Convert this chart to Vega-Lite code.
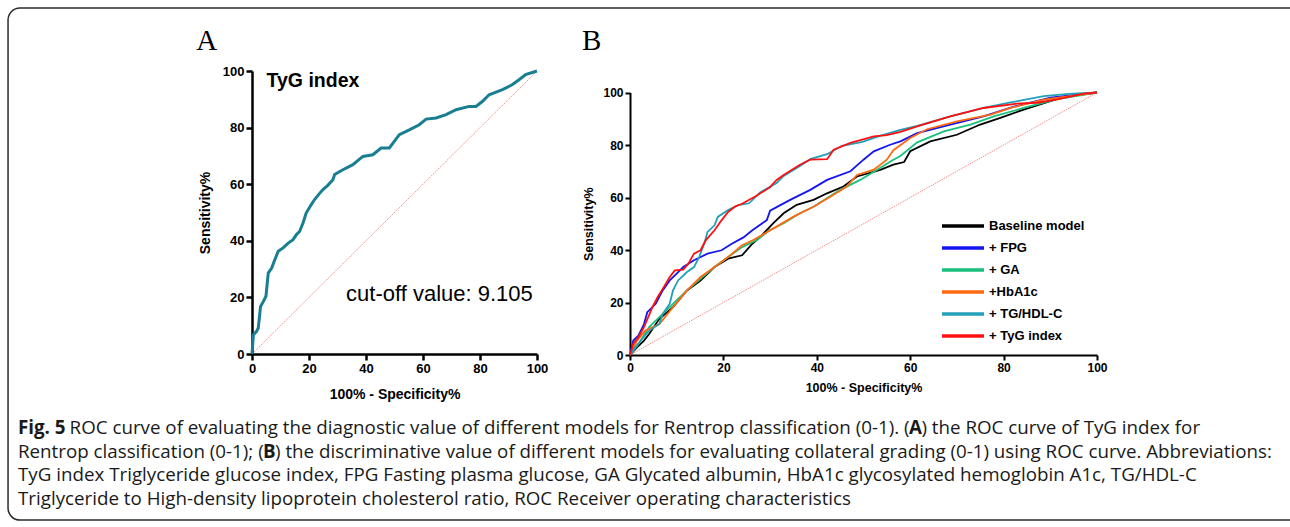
{
  "$schema": "https://vega.github.io/schema/vega-lite/v6.json",
  "padding": {"left": 7, "top": 7, "right": 0, "bottom": 0},
  "background": "white",
  "config": {"view": {"stroke": null}, "font": "Liberation Sans"},
  "datasets": {
    "caption": [
      {"seg": "L1a", "text": "Fig. 5"},
      {"seg": "L1b", "text": "ROC curve of evaluating the diagnostic value of different models for Rentrop classification (0-1). ("},
      {"seg": "L1c", "text": "A"},
      {"seg": "L1d", "text": ") the ROC curve of TyG index for"},
      {"seg": "L2a", "text": "Rentrop classification (0-1); ("},
      {"seg": "L2b", "text": "B"},
      {"seg": "L2c", "text": ") the discriminative value of different models for evaluating collateral grading (0-1) using ROC curve. Abbreviations:"},
      {"seg": "L3", "text": "TyG index Triglyceride glucose index, FPG Fasting plasma glucose, GA Glycated albumin, HbA1c glycosylated hemoglobin A1c, TG/HDL-C"},
      {"seg": "L4", "text": "Triglyceride to High-density lipoprotein cholesterol ratio, ROC Receiver operating characteristics"}
    ],
    "diag": [{"fpr": 0, "tpr": 0}, {"fpr": 100, "tpr": 100}],
    "rocA": [
      {"fpr": 0, "tpr": 0}, {"fpr": 0.5, "tpr": 6.8}, {"fpr": 1.6, "tpr": 8.0}, {"fpr": 2.2, "tpr": 9.2}, {"fpr": 3.0, "tpr": 16.8},
      {"fpr": 4.0, "tpr": 18.6}, {"fpr": 4.9, "tpr": 20.4}, {"fpr": 5.7, "tpr": 28.6}, {"fpr": 6.9, "tpr": 30.4}, {"fpr": 8.0, "tpr": 33.3},
      {"fpr": 9.2, "tpr": 36.3}, {"fpr": 10.9, "tpr": 37.5}, {"fpr": 12.7, "tpr": 39.2}, {"fpr": 14.4, "tpr": 40.4}, {"fpr": 15.6, "tpr": 42.2},
      {"fpr": 16.7, "tpr": 43.3}, {"fpr": 17.9, "tpr": 46.3}, {"fpr": 19.0, "tpr": 49.8}, {"fpr": 20.8, "tpr": 52.8}, {"fpr": 21.9, "tpr": 54.5},
      {"fpr": 23.5, "tpr": 56.5}, {"fpr": 24.9, "tpr": 58.1}, {"fpr": 26.5, "tpr": 59.5}, {"fpr": 28.4, "tpr": 61.6}, {"fpr": 29.0, "tpr": 63.4},
      {"fpr": 31.9, "tpr": 65.1}, {"fpr": 35.4, "tpr": 66.9}, {"fpr": 38.9, "tpr": 69.8}, {"fpr": 42.4, "tpr": 70.4}, {"fpr": 45.3, "tpr": 72.8},
      {"fpr": 48.2, "tpr": 72.8}, {"fpr": 51.7, "tpr": 77.5}, {"fpr": 55.2, "tpr": 79.2}, {"fpr": 58.7, "tpr": 81.0}, {"fpr": 61.1, "tpr": 83.0},
      {"fpr": 64.6, "tpr": 83.4}, {"fpr": 68.1, "tpr": 84.6}, {"fpr": 71.6, "tpr": 86.3}, {"fpr": 76.2, "tpr": 87.5}, {"fpr": 78.6, "tpr": 87.5},
      {"fpr": 80.9, "tpr": 89.3}, {"fpr": 83.2, "tpr": 91.6}, {"fpr": 87.9, "tpr": 93.4}, {"fpr": 91.4, "tpr": 95.2}, {"fpr": 93.7, "tpr": 96.9},
      {"fpr": 96.0, "tpr": 98.7}, {"fpr": 100, "tpr": 100}
    ],
    "rocB": [
      {"model": "Baseline model", "fpr": 0, "tpr": 0}, {"model": "Baseline model", "fpr": 1.5, "tpr": 2.9}, {"model": "Baseline model", "fpr": 3.0, "tpr": 5.5},
      {"model": "Baseline model", "fpr": 4.1, "tpr": 8.0}, {"model": "Baseline model", "fpr": 6.3, "tpr": 13.8}, {"model": "Baseline model", "fpr": 9.2, "tpr": 18.2},
      {"model": "Baseline model", "fpr": 12.2, "tpr": 24.6}, {"model": "Baseline model", "fpr": 15.1, "tpr": 28.4}, {"model": "Baseline model", "fpr": 18.1, "tpr": 33.5},
      {"model": "Baseline model", "fpr": 21.0, "tpr": 36.7}, {"model": "Baseline model", "fpr": 24.0, "tpr": 38.0}, {"model": "Baseline model", "fpr": 26.2, "tpr": 42.4},
      {"model": "Baseline model", "fpr": 27.9, "tpr": 45.0}, {"model": "Baseline model", "fpr": 30.7, "tpr": 50.2}, {"model": "Baseline model", "fpr": 32.9, "tpr": 54.0},
      {"model": "Baseline model", "fpr": 35.7, "tpr": 57.2}, {"model": "Baseline model", "fpr": 39.3, "tpr": 59.1}, {"model": "Baseline model", "fpr": 42.2, "tpr": 61.6},
      {"model": "Baseline model", "fpr": 45.7, "tpr": 64.2}, {"model": "Baseline model", "fpr": 48.6, "tpr": 68.0}, {"model": "Baseline model", "fpr": 53.6, "tpr": 70.5},
      {"model": "Baseline model", "fpr": 56.4, "tpr": 72.5}, {"model": "Baseline model", "fpr": 58.7, "tpr": 73.5}, {"model": "Baseline model", "fpr": 60.0, "tpr": 77.6},
      {"model": "Baseline model", "fpr": 64.3, "tpr": 81.4}, {"model": "Baseline model", "fpr": 70.0, "tpr": 83.9}, {"model": "Baseline model", "fpr": 75.0, "tpr": 87.8},
      {"model": "Baseline model", "fpr": 79.3, "tpr": 90.3}, {"model": "Baseline model", "fpr": 84.3, "tpr": 93.5}, {"model": "Baseline model", "fpr": 90.0, "tpr": 96.7},
      {"model": "Baseline model", "fpr": 92.9, "tpr": 98.3}, {"model": "Baseline model", "fpr": 100, "tpr": 100},

      {"model": "+ FPG", "fpr": 0, "tpr": 0}, {"model": "+ FPG", "fpr": 0.7, "tpr": 5.5}, {"model": "+ FPG", "fpr": 1.8, "tpr": 7.4},
      {"model": "+ FPG", "fpr": 3.0, "tpr": 11.8}, {"model": "+ FPG", "fpr": 3.7, "tpr": 16.3}, {"model": "+ FPG", "fpr": 5.5, "tpr": 19.5},
      {"model": "+ FPG", "fpr": 7.0, "tpr": 24.6}, {"model": "+ FPG", "fpr": 8.5, "tpr": 28.4}, {"model": "+ FPG", "fpr": 10.0, "tpr": 31.0},
      {"model": "+ FPG", "fpr": 11.4, "tpr": 33.5}, {"model": "+ FPG", "fpr": 13.7, "tpr": 36.1}, {"model": "+ FPG", "fpr": 16.6, "tpr": 38.6},
      {"model": "+ FPG", "fpr": 19.6, "tpr": 39.9}, {"model": "+ FPG", "fpr": 21.8, "tpr": 42.4}, {"model": "+ FPG", "fpr": 24.3, "tpr": 44.8},
      {"model": "+ FPG", "fpr": 26.2, "tpr": 47.5}, {"model": "+ FPG", "fpr": 29.3, "tpr": 51.4}, {"model": "+ FPG", "fpr": 30.0, "tpr": 55.0},
      {"model": "+ FPG", "fpr": 32.1, "tpr": 57.0}, {"model": "+ FPG", "fpr": 34.3, "tpr": 59.1}, {"model": "+ FPG", "fpr": 38.6, "tpr": 62.9},
      {"model": "+ FPG", "fpr": 42.2, "tpr": 66.7}, {"model": "+ FPG", "fpr": 47.2, "tpr": 70.0}, {"model": "+ FPG", "fpr": 50.0, "tpr": 74.4},
      {"model": "+ FPG", "fpr": 52.2, "tpr": 77.6}, {"model": "+ FPG", "fpr": 55.7, "tpr": 80.1}, {"model": "+ FPG", "fpr": 57.9, "tpr": 81.4},
      {"model": "+ FPG", "fpr": 61.5, "tpr": 84.5}, {"model": "+ FPG", "fpr": 68.6, "tpr": 87.8}, {"model": "+ FPG", "fpr": 75.7, "tpr": 90.9},
      {"model": "+ FPG", "fpr": 82.2, "tpr": 94.6}, {"model": "+ FPG", "fpr": 90.0, "tpr": 98.0}, {"model": "+ FPG", "fpr": 100, "tpr": 100},

      {"model": "+ GA", "fpr": 0, "tpr": 0}, {"model": "+ GA", "fpr": 1.8, "tpr": 4.2}, {"model": "+ GA", "fpr": 4.1, "tpr": 10.6},
      {"model": "+ GA", "fpr": 7.0, "tpr": 15.7}, {"model": "+ GA", "fpr": 9.2, "tpr": 19.5}, {"model": "+ GA", "fpr": 12.2, "tpr": 24.6},
      {"model": "+ GA", "fpr": 15.1, "tpr": 29.0}, {"model": "+ GA", "fpr": 18.1, "tpr": 33.5}, {"model": "+ GA", "fpr": 21.0, "tpr": 37.3},
      {"model": "+ GA", "fpr": 24.0, "tpr": 41.1}, {"model": "+ GA", "fpr": 27.2, "tpr": 43.8}, {"model": "+ GA", "fpr": 29.9, "tpr": 47.5},
      {"model": "+ GA", "fpr": 32.9, "tpr": 50.2}, {"model": "+ GA", "fpr": 36.4, "tpr": 54.0}, {"model": "+ GA", "fpr": 39.3, "tpr": 56.5},
      {"model": "+ GA", "fpr": 45.0, "tpr": 62.9}, {"model": "+ GA", "fpr": 49.3, "tpr": 66.7}, {"model": "+ GA", "fpr": 52.9, "tpr": 70.6},
      {"model": "+ GA", "fpr": 56.4, "tpr": 74.4}, {"model": "+ GA", "fpr": 57.9, "tpr": 75.8}, {"model": "+ GA", "fpr": 61.5, "tpr": 81.0},
      {"model": "+ GA", "fpr": 67.2, "tpr": 85.2}, {"model": "+ GA", "fpr": 72.9, "tpr": 87.8}, {"model": "+ GA", "fpr": 77.9, "tpr": 90.9},
      {"model": "+ GA", "fpr": 84.3, "tpr": 94.1}, {"model": "+ GA", "fpr": 91.5, "tpr": 97.5}, {"model": "+ GA", "fpr": 100, "tpr": 100},

      {"model": "+HbA1c", "fpr": 0, "tpr": 0}, {"model": "+HbA1c", "fpr": 1.5, "tpr": 5.5}, {"model": "+HbA1c", "fpr": 3.3, "tpr": 9.3},
      {"model": "+HbA1c", "fpr": 6.3, "tpr": 11.8}, {"model": "+HbA1c", "fpr": 9.2, "tpr": 18.2}, {"model": "+HbA1c", "fpr": 12.2, "tpr": 24.6},
      {"model": "+HbA1c", "fpr": 15.1, "tpr": 29.7}, {"model": "+HbA1c", "fpr": 18.1, "tpr": 33.5}, {"model": "+HbA1c", "fpr": 21.0, "tpr": 37.3},
      {"model": "+HbA1c", "fpr": 24.0, "tpr": 41.8}, {"model": "+HbA1c", "fpr": 26.4, "tpr": 43.8}, {"model": "+HbA1c", "fpr": 31.4, "tpr": 48.9},
      {"model": "+HbA1c", "fpr": 35.0, "tpr": 52.7}, {"model": "+HbA1c", "fpr": 39.3, "tpr": 56.5}, {"model": "+HbA1c", "fpr": 42.9, "tpr": 60.3},
      {"model": "+HbA1c", "fpr": 46.4, "tpr": 64.2}, {"model": "+HbA1c", "fpr": 48.6, "tpr": 68.6}, {"model": "+HbA1c", "fpr": 52.2, "tpr": 70.6},
      {"model": "+HbA1c", "fpr": 55.0, "tpr": 74.4}, {"model": "+HbA1c", "fpr": 56.4, "tpr": 78.0}, {"model": "+HbA1c", "fpr": 60.0, "tpr": 82.7},
      {"model": "+HbA1c", "fpr": 63.6, "tpr": 86.0}, {"model": "+HbA1c", "fpr": 70.0, "tpr": 89.0}, {"model": "+HbA1c", "fpr": 77.2, "tpr": 91.6},
      {"model": "+HbA1c", "fpr": 81.5, "tpr": 94.1}, {"model": "+HbA1c", "fpr": 88.6, "tpr": 97.3}, {"model": "+HbA1c", "fpr": 100, "tpr": 100},

      {"model": "+ TG/HDL-C", "fpr": 0, "tpr": 0}, {"model": "+ TG/HDL-C", "fpr": 1.1, "tpr": 2.9}, {"model": "+ TG/HDL-C", "fpr": 2.6, "tpr": 6.1},
      {"model": "+ TG/HDL-C", "fpr": 4.1, "tpr": 9.3}, {"model": "+ TG/HDL-C", "fpr": 6.3, "tpr": 11.8}, {"model": "+ TG/HDL-C", "fpr": 7.0, "tpr": 15.7},
      {"model": "+ TG/HDL-C", "fpr": 8.5, "tpr": 19.5}, {"model": "+ TG/HDL-C", "fpr": 9.2, "tpr": 24.6}, {"model": "+ TG/HDL-C", "fpr": 10.3, "tpr": 28.4},
      {"model": "+ TG/HDL-C", "fpr": 12.2, "tpr": 31.6}, {"model": "+ TG/HDL-C", "fpr": 13.7, "tpr": 33.5}, {"model": "+ TG/HDL-C", "fpr": 14.8, "tpr": 37.3},
      {"model": "+ TG/HDL-C", "fpr": 15.9, "tpr": 42.4}, {"model": "+ TG/HDL-C", "fpr": 16.6, "tpr": 46.9}, {"model": "+ TG/HDL-C", "fpr": 18.1, "tpr": 49.4},
      {"model": "+ TG/HDL-C", "fpr": 18.8, "tpr": 52.6}, {"model": "+ TG/HDL-C", "fpr": 21.0, "tpr": 55.2}, {"model": "+ TG/HDL-C", "fpr": 23.2, "tpr": 57.1},
      {"model": "+ TG/HDL-C", "fpr": 25.5, "tpr": 57.8}, {"model": "+ TG/HDL-C", "fpr": 27.9, "tpr": 62.0}, {"model": "+ TG/HDL-C", "fpr": 31.4, "tpr": 65.5},
      {"model": "+ TG/HDL-C", "fpr": 32.9, "tpr": 68.2}, {"model": "+ TG/HDL-C", "fpr": 36.4, "tpr": 72.0}, {"model": "+ TG/HDL-C", "fpr": 38.6, "tpr": 74.6},
      {"model": "+ TG/HDL-C", "fpr": 42.2, "tpr": 76.5}, {"model": "+ TG/HDL-C", "fpr": 45.4, "tpr": 79.7}, {"model": "+ TG/HDL-C", "fpr": 49.8, "tpr": 81.2},
      {"model": "+ TG/HDL-C", "fpr": 53.5, "tpr": 83.5}, {"model": "+ TG/HDL-C", "fpr": 57.9, "tpr": 85.8}, {"model": "+ TG/HDL-C", "fpr": 61.5, "tpr": 87.3},
      {"model": "+ TG/HDL-C", "fpr": 68.6, "tpr": 90.9}, {"model": "+ TG/HDL-C", "fpr": 75.7, "tpr": 94.1}, {"model": "+ TG/HDL-C", "fpr": 81.5, "tpr": 96.2},
      {"model": "+ TG/HDL-C", "fpr": 88.6, "tpr": 98.6}, {"model": "+ TG/HDL-C", "fpr": 94.0, "tpr": 99.5}, {"model": "+ TG/HDL-C", "fpr": 100, "tpr": 100},

      {"model": "+ TyG index", "fpr": 0, "tpr": 0}, {"model": "+ TyG index", "fpr": 0.7, "tpr": 4.2}, {"model": "+ TyG index", "fpr": 1.8, "tpr": 6.8},
      {"model": "+ TyG index", "fpr": 3.0, "tpr": 10.6}, {"model": "+ TyG index", "fpr": 4.8, "tpr": 18.2}, {"model": "+ TyG index", "fpr": 5.9, "tpr": 22.0},
      {"model": "+ TyG index", "fpr": 7.0, "tpr": 25.2}, {"model": "+ TyG index", "fpr": 8.5, "tpr": 29.7}, {"model": "+ TyG index", "fpr": 9.6, "tpr": 32.2},
      {"model": "+ TyG index", "fpr": 11.4, "tpr": 32.5}, {"model": "+ TyG index", "fpr": 12.5, "tpr": 34.8}, {"model": "+ TyG index", "fpr": 13.7, "tpr": 38.6},
      {"model": "+ TyG index", "fpr": 15.1, "tpr": 39.9}, {"model": "+ TyG index", "fpr": 16.2, "tpr": 43.7}, {"model": "+ TyG index", "fpr": 18.1, "tpr": 47.5},
      {"model": "+ TyG index", "fpr": 19.6, "tpr": 51.3}, {"model": "+ TyG index", "fpr": 21.0, "tpr": 54.5}, {"model": "+ TyG index", "fpr": 22.5, "tpr": 56.6},
      {"model": "+ TyG index", "fpr": 24.0, "tpr": 57.6}, {"model": "+ TyG index", "fpr": 26.9, "tpr": 60.5}, {"model": "+ TyG index", "fpr": 29.9, "tpr": 63.8},
      {"model": "+ TyG index", "fpr": 31.4, "tpr": 66.7}, {"model": "+ TyG index", "fpr": 32.9, "tpr": 68.6}, {"model": "+ TyG index", "fpr": 36.4, "tpr": 72.5},
      {"model": "+ TyG index", "fpr": 38.6, "tpr": 74.4}, {"model": "+ TyG index", "fpr": 42.2, "tpr": 74.6}, {"model": "+ TyG index", "fpr": 43.6, "tpr": 78.2},
      {"model": "+ TyG index", "fpr": 47.2, "tpr": 80.8}, {"model": "+ TyG index", "fpr": 52.2, "tpr": 83.3}, {"model": "+ TyG index", "fpr": 55.0, "tpr": 83.8},
      {"model": "+ TyG index", "fpr": 57.9, "tpr": 85.0}, {"model": "+ TyG index", "fpr": 61.5, "tpr": 87.1}, {"model": "+ TyG index", "fpr": 68.6, "tpr": 90.9},
      {"model": "+ TyG index", "fpr": 75.7, "tpr": 94.1}, {"model": "+ TyG index", "fpr": 82.9, "tpr": 95.8}, {"model": "+ TyG index", "fpr": 87.2, "tpr": 96.1},
      {"model": "+ TyG index", "fpr": 91.5, "tpr": 97.4}, {"model": "+ TyG index", "fpr": 97.2, "tpr": 99.6}, {"model": "+ TyG index", "fpr": 100, "tpr": 100}
    ]
  },
  "hconcat": [
    {
      "width": 285,
      "height": 283,
      "layer": [
        {"data": {"name": "diag"}, "mark": {"type": "line", "color": "#f26d6d", "strokeWidth": 0.8, "strokeDash": [1.5, 1]},
          "encoding": {
            "x": {"field": "fpr", "type": "quantitative", "scale": {"domain": [0, 100], "nice": false},
              "axis": {"values": [0, 20, 40, 60, 80, 100], "title": "100% - Specificity%", "grid": false, "domainWidth": 2.5, "domainColor": "black", "tickColor": "black", "tickWidth": 2.5, "tickSize": 6, "labelFont": "Liberation Sans", "labelFontWeight": "bold", "labelFontSize": 13, "labelColor": "black", "labelPadding": 2, "labelFlush": false, "labelOverlap": false, "titleFont": "Liberation Sans", "titleFontSize": 14, "titleFontWeight": "bold", "titleColor": "black", "titlePadding": 12}},
            "y": {"field": "tpr", "type": "quantitative", "scale": {"domain": [0, 100], "nice": false},
              "axis": {"values": [0, 20, 40, 60, 80, 100], "title": "Sensitivity%", "grid": false, "domainWidth": 2.5, "domainColor": "black", "tickColor": "black", "tickWidth": 2.5, "tickSize": 6, "labelFont": "Liberation Sans", "labelFontWeight": "bold", "labelFontSize": 13, "labelColor": "black", "labelPadding": 2, "labelFlush": false, "labelOverlap": false, "titleFont": "Liberation Sans", "titleFontSize": 14, "titleFontWeight": "bold", "titleColor": "black", "titlePadding": 10}}
          }},
        {"data": {"name": "rocA"}, "mark": {"type": "line", "color": "#1a7e92", "strokeWidth": 3},
          "encoding": {"x": {"field": "fpr", "type": "quantitative"}, "y": {"field": "tpr", "type": "quantitative"}}},
        {"data": {"values": [{"box": "frame"}]}, "mark": {"type": "rect", "filled": false, "stroke": "#2b2b2b", "strokeWidth": 1.5, "cornerRadius": 12},
          "encoding": {"x": {"datum": -85.6, "type": "quantitative"}, "x2": {"datum": 367.7}, "y": {"datum": 122.3, "type": "quantitative"}, "y2": {"datum": -58.7}}},
        {"data": {"name": "caption"}, "transform": [{"filter": "datum.seg == 'L1a'"}], "mark": {"type": "text", "align": "left", "baseline": "middle", "font": "Open Sans", "fontSize": 18.75, "fontWeight": "bold", "color": "#1a1a1a"},
          "encoding": {"x": {"datum": -82.1, "type": "quantitative"}, "y": {"datum": -26.1, "type": "quantitative"}, "text": {"field": "text"}}},
        {"data": {"name": "caption"}, "transform": [{"filter": "datum.seg == 'L1b'"}], "mark": {"type": "text", "align": "left", "baseline": "middle", "font": "Open Sans", "fontSize": 18.75, "color": "#1a1a1a"},
          "encoding": {"x": {"datum": -64.0, "type": "quantitative"}, "y": {"datum": -26.1, "type": "quantitative"}, "text": {"field": "text"}}},
        {"data": {"name": "caption"}, "transform": [{"filter": "datum.seg == 'L1c'"}], "mark": {"type": "text", "align": "left", "baseline": "middle", "font": "Open Sans", "fontSize": 18.75, "fontWeight": "bold", "color": "#1a1a1a"},
          "encoding": {"x": {"datum": 230.5, "type": "quantitative"}, "y": {"datum": -26.1, "type": "quantitative"}, "text": {"field": "text"}}},
        {"data": {"name": "caption"}, "transform": [{"filter": "datum.seg == 'L1d'"}], "mark": {"type": "text", "align": "left", "baseline": "middle", "font": "Open Sans", "fontSize": 18.75, "color": "#1a1a1a"},
          "encoding": {"x": {"datum": 234.9, "type": "quantitative"}, "y": {"datum": -26.1, "type": "quantitative"}, "text": {"field": "text"}}},
        {"data": {"name": "caption"}, "transform": [{"filter": "datum.seg == 'L2a'"}], "mark": {"type": "text", "align": "left", "baseline": "middle", "font": "Open Sans", "fontSize": 18.75, "color": "#1a1a1a"},
          "encoding": {"x": {"datum": -82.1, "type": "quantitative"}, "y": {"datum": -34.6, "type": "quantitative"}, "text": {"field": "text"}}},
        {"data": {"name": "caption"}, "transform": [{"filter": "datum.seg == 'L2b'"}], "mark": {"type": "text", "align": "left", "baseline": "middle", "font": "Open Sans", "fontSize": 18.75, "fontWeight": "bold", "color": "#1a1a1a"},
          "encoding": {"x": {"datum": 3.86, "type": "quantitative"}, "y": {"datum": -34.6, "type": "quantitative"}, "text": {"field": "text"}}},
        {"data": {"name": "caption"}, "transform": [{"filter": "datum.seg == 'L2c'"}], "mark": {"type": "text", "align": "left", "baseline": "middle", "font": "Open Sans", "fontSize": 18.75, "color": "#1a1a1a"},
          "encoding": {"x": {"datum": 8.07, "type": "quantitative"}, "y": {"datum": -34.6, "type": "quantitative"}, "text": {"field": "text"}}},
        {"data": {"name": "caption"}, "transform": [{"filter": "datum.seg == 'L3'"}], "mark": {"type": "text", "align": "left", "baseline": "middle", "font": "Open Sans", "fontSize": 18.75, "color": "#1a1a1a"},
          "encoding": {"x": {"datum": -82.1, "type": "quantitative"}, "y": {"datum": -42.9, "type": "quantitative"}, "text": {"field": "text"}}},
        {"data": {"name": "caption"}, "transform": [{"filter": "datum.seg == 'L4'"}], "mark": {"type": "text", "align": "left", "baseline": "middle", "font": "Open Sans", "fontSize": 18.75, "color": "#1a1a1a"},
          "encoding": {"x": {"datum": -82.1, "type": "quantitative"}, "y": {"datum": -51.2, "type": "quantitative"}, "text": {"field": "text"}}},
        {"data": {"values": [{"label": "A"}]}, "mark": {"type": "text", "align": "left", "baseline": "alphabetic", "font": "Liberation Serif", "fontSize": 29, "color": "black"},
          "encoding": {"x": {"datum": -19.6, "type": "quantitative"}, "y": {"datum": 107.4, "type": "quantitative"}, "text": {"field": "label"}}},
        {"data": {"values": [{"label": "TyG index"}]}, "mark": {"type": "text", "align": "left", "baseline": "middle", "font": "Liberation Sans", "fontWeight": "bold", "fontSize": 19.5, "color": "black"},
          "encoding": {"x": {"datum": 5.1, "type": "quantitative"}, "y": {"datum": 96.3, "type": "quantitative"}, "text": {"field": "label"}}},
        {"data": {"values": [{"label": "cut-off value: 9.105"}]}, "mark": {"type": "text", "align": "left", "baseline": "middle", "font": "Liberation Sans", "fontSize": 22, "color": "black"},
          "encoding": {"x": {"datum": 33.0, "type": "quantitative"}, "y": {"datum": 21.2, "type": "quantitative"}, "text": {"field": "label"}}}
      ]
    },
    {
      "width": 467,
      "height": 284,
      "layer": [
        {"data": {"name": "diag"}, "mark": {"type": "line", "color": "#f26d6d", "strokeWidth": 0.8, "strokeDash": [1.5, 1]},
          "encoding": {
            "x": {"field": "fpr", "type": "quantitative", "scale": {"domain": [0, 100], "nice": false},
              "axis": {"values": [0, 20, 40, 60, 80, 100], "title": "100% - Specificity%", "grid": false, "domainWidth": 2, "domainColor": "black", "tickColor": "black", "tickWidth": 2, "tickSize": 5, "labelFont": "Liberation Sans", "labelFontWeight": "bold", "labelFontSize": 12, "labelColor": "black", "labelPadding": 2, "labelFlush": false, "labelOverlap": false, "titleFont": "Liberation Sans", "titleFontSize": 12.5, "titleFontWeight": "bold", "titleColor": "black", "titlePadding": 8}},
            "y": {"field": "tpr", "type": "quantitative", "scale": {"domain": [0, 100], "nice": false, "range": [284, 21.5]},
              "axis": {"values": [0, 20, 40, 60, 80, 100], "title": "Sensitivity%", "grid": false, "domainWidth": 2, "domainColor": "black", "tickColor": "black", "tickWidth": 2, "tickSize": 5, "labelFont": "Liberation Sans", "labelFontWeight": "bold", "labelFontSize": 12, "labelColor": "black", "labelPadding": 2, "labelFlush": false, "labelOverlap": false, "titleFont": "Liberation Sans", "titleFontSize": 12.5, "titleFontWeight": "bold", "titleColor": "black", "titlePadding": 7}}
          }},
        {"data": {"name": "rocB"}, "mark": {"type": "line", "strokeWidth": 1.8},
          "encoding": {
            "x": {"field": "fpr", "type": "quantitative"},
            "y": {"field": "tpr", "type": "quantitative"},
            "color": {"field": "model", "type": "nominal",
              "scale": {"domain": ["Baseline model", "+ FPG", "+ GA", "+HbA1c", "+ TG/HDL-C", "+ TyG index"], "range": ["#000000", "#1414f0", "#19c07b", "#ff6a10", "#22a0ba", "#ff1010"]},
              "legend": {"orient": "none", "legendX": 324, "legendY": 146, "title": null, "symbolType": "M-3,0H3", "symbolSize": 196, "symbolStrokeWidth": 3.5, "labelFont": "Liberation Sans", "labelFontWeight": "bold", "labelFontSize": 13, "labelColor": "black", "labelOffset": 17, "rowPadding": 6, "padding": 0}}
          }},
        {"data": {"values": [{"label": "B"}]}, "mark": {"type": "text", "align": "left", "baseline": "alphabetic", "font": "Liberation Serif", "fontSize": 29, "color": "black"},
          "encoding": {"x": {"datum": -10.3, "type": "quantitative"}, "y": {"datum": 116.2, "type": "quantitative"}, "text": {"field": "label"}}}
      ]
    }
  ],
  "spacing": 93,
  "bounds": "flush",
  "resolve": {"scale": {"x": "independent", "y": "independent", "color": "independent"}, "legend": {"color": "independent"}}
}
